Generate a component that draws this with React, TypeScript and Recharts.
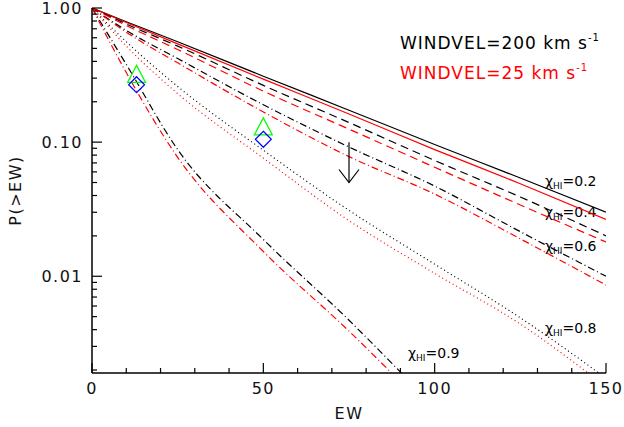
import React from "react";
import { ComposedChart, Customized, Line, ReferenceLine, Scatter, XAxis, YAxis } from "recharts";

// EW grid shared by every curve
const ewGrid = [0, 10, 25, 50, 75, 100, 125, 150];

// P(>EW), WINDVEL = 200 km/s (black) and 25 km/s (red)
const black02 = [1, 0.79, 0.56, 0.31, 0.173, 0.096, 0.054, 0.03];
const red02 = [1, 0.78, 0.54, 0.295, 0.162, 0.088, 0.049, 0.0265];
const black04 = [1, 0.76, 0.52, 0.265, 0.14, 0.073, 0.039, 0.02];
const red04 = [1, 0.74, 0.49, 0.24, 0.125, 0.065, 0.034, 0.018];
const black06 = [1, 0.68, 0.42, 0.19, 0.092, 0.047, 0.0215, 0.01];
const red06 = [1, 0.66, 0.39, 0.168, 0.078, 0.041, 0.019, 0.0086];
const black08 = [1, 0.56, 0.26, 0.087, 0.031, 0.0123, 0.0049, 0.00174];
const red08 = [1, 0.52, 0.23, 0.076, 0.026, 0.0105, 0.0044, 0.0015];
const black09 = [1, 0.38, 0.088, 0.0188, 0.0047, 0.00105, null, null];
const red09 = [1, 0.33, 0.077, 0.0153, 0.0039, 0.0009, null, null];

// observed points
const triangleEW = [13, 50];
const triangleP = [0.32, 0.13];
const diamondEW = [13, 50];
const diamondP = [0.268, 0.105];

// upper limit arrow
const limitEW = [75];
const limitTop = [0.1];
const limitTip = [0.05];

// ticks
const xTicks = [0, 10, 20, 30, 40, 50, 60, 70, 80, 90, 100, 110, 120, 130, 140, 150];
const xLabelled = [0, 50, 100, 150];
const yTicks = [
  0.002, 0.003, 0.004, 0.005, 0.006, 0.007, 0.008, 0.009,
  0.01, 0.02, 0.03, 0.04, 0.05, 0.06, 0.07, 0.08, 0.09,
  0.1, 0.2, 0.3, 0.4, 0.5, 0.6, 0.7, 0.8, 0.9, 1,
];
const yMajor = [0.01, 0.1, 1];
const yMajorLabels = ["0.01", "0.10", "1.00"];

const FONT = "'DejaVu Sans', sans-serif";

const chartData = ewGrid.map((ew, i) => ({
  ew,
  b02: black02[i],
  r02: red02[i],
  b04: black04[i],
  r04: red04[i],
  b06: black06[i],
  r06: red06[i],
  b08: black08[i],
  r08: red08[i],
  b09: black09[i],
  r09: red09[i],
}));

const DASHED = "8 5";
const DASHDOT = "7 3 1 3";
const DOTTED = "1 3";

const series = [
  { key: "b02", color: "#000000", dash: undefined },
  { key: "r02", color: "#ff0000", dash: undefined },
  { key: "b04", color: "#000000", dash: DASHED },
  { key: "r04", color: "#ff0000", dash: DASHED },
  { key: "b06", color: "#000000", dash: DASHDOT },
  { key: "r06", color: "#ff0000", dash: DASHDOT },
  { key: "b08", color: "#000000", dash: DOTTED },
  { key: "r08", color: "#ff0000", dash: DOTTED },
  { key: "b09", color: "#000000", dash: DASHDOT },
  { key: "r09", color: "#ff0000", dash: DASHDOT },
];

const triangles = triangleEW.map((ew, i) => ({ ew, p: triangleP[i] }));
const diamonds = diamondEW.map((ew, i) => ({ ew, p: diamondP[i] }));
const arrowTips = limitEW.map((ew, i) => ({ ew, p: limitTip[i] }));

function BottomTick(props: any) {
  const { x, y, payload } = props;
  const labelled = xLabelled.includes(payload.value);
  return (
    <g>
      <line x1={x} x2={x} y1={y} y2={y - (labelled ? 10 : 5)} stroke="#000" strokeWidth={1.2} />
      {labelled && (
        <text x={x} y={y + 21} textAnchor="middle" fontSize={16} letterSpacing={1.5} fontFamily={FONT} fill="#111">
          {payload.value}
        </text>
      )}
    </g>
  );
}

function TopTick(props: any) {
  const { x, y, payload } = props;
  const labelled = xLabelled.includes(payload.value);
  return <line x1={x} x2={x} y1={y} y2={y + (labelled ? 10 : 5)} stroke="#000" strokeWidth={1.2} />;
}

function LeftTick(props: any) {
  const { x, y, payload } = props;
  const idx = yMajor.findIndex((v) => Math.abs(v - payload.value) < 1e-9);
  const major = idx >= 0;
  return (
    <g>
      <line x1={x} x2={x + (major ? 10 : 5)} y1={y} y2={y} stroke="#000" strokeWidth={1.2} />
      {major && (
        <text x={x - 9} y={y + 6} textAnchor="end" fontSize={16} letterSpacing={1.5} fontFamily={FONT} fill="#111">
          {yMajorLabels[idx]}
        </text>
      )}
    </g>
  );
}

function RightTick(props: any) {
  const { x, y, payload } = props;
  const major = yMajor.some((v) => Math.abs(v - payload.value) < 1e-9);
  return <line x1={x} x2={x - (major ? 10 : 5)} y1={y} y2={y} stroke="#000" strokeWidth={1.2} />;
}

function TriangleMark(props: any) {
  const { cx, cy } = props;
  return <path d={`M${cx},${cy - 9}L${cx + 9},${cy + 8}L${cx - 9},${cy + 8}Z`} fill="none" stroke="#00ff00" strokeWidth={1.2} />;
}

function DiamondMark(props: any) {
  const { cx, cy } = props;
  return <path d={`M${cx},${cy - 8}L${cx + 8},${cy}L${cx},${cy + 8}L${cx - 8},${cy}Z`} fill="none" stroke="#0000ff" strokeWidth={1.2} />;
}

function ArrowHead(props: any) {
  const { cx, cy } = props;
  return <path d={`M${cx - 10},${cy - 13}L${cx},${cy}L${cx + 10},${cy - 13}`} fill="none" stroke="#000" strokeWidth={1.2} />;
}

function ChiLabel({ x, y, value }: { x: number; y: number; value: string }) {
  return (
    <text x={x} y={y} fontFamily={FONT} fontSize={14} fill="#000">
      χ
      <tspan fontSize={9} dy={3}>HI</tspan>
      <tspan dy={-3}>={value}</tspan>
    </text>
  );
}

function Annotations() {
  return (
    <g>
      <text x={400} y={49} fontFamily={FONT} fontSize={17} letterSpacing={1} fill="#000">
        WINDVEL=200 km s<tspan fontSize={10} dy={-8}>-1</tspan>
      </text>
      <text x={400} y={79} fontFamily={FONT} fontSize={17} letterSpacing={1} fill="#ff0000">
        WINDVEL=25 km s<tspan fontSize={10} dy={-8}>-1</tspan>
      </text>
      <ChiLabel x={545} y={186} value="0.2" />
      <ChiLabel x={545} y={217} value="0.4" />
      <ChiLabel x={545} y={251} value="0.6" />
      <ChiLabel x={545} y={333} value="0.8" />
      <ChiLabel x={408} y={358} value="0.9" />
    </g>
  );
}

export default function App() {
  return (
    <div style={{ position: "absolute", left: 0, top: 0, width: 624, height: 427, background: "#fff" }}>
      <ComposedChart width={624} height={427} data={chartData} margin={{ top: 8, right: 18, bottom: 0, left: 0 }}>
        <XAxis
          xAxisId="x"
          dataKey="ew"
          type="number"
          domain={[0, 150]}
          ticks={xTicks}
          interval={0}
          allowDataOverflow
          height={54}
          tickSize={0}
          tickMargin={0}
          tickLine={false}
          tick={<BottomTick />}
          axisLine={{ stroke: "#000", strokeWidth: 1.5 }}
          label={{
            content: (p: any) => {
              const vb = p.viewBox;
              return (
                <text x={vb.x + vb.width / 2} y={vb.y + 46} textAnchor="middle" fontSize={16} letterSpacing={1.5} fontFamily={FONT} fill="#111">
                  EW
                </text>
              );
            },
          }}
        />
        <XAxis
          xAxisId="top"
          orientation="top"
          dataKey="ew"
          type="number"
          domain={[0, 150]}
          ticks={xTicks}
          interval={0}
          allowDataOverflow
          height={0}
          tickSize={0}
          tickMargin={0}
          tickLine={false}
          tick={<TopTick />}
          axisLine={{ stroke: "#000", strokeWidth: 1.5 }}
        />
        <YAxis
          yAxisId="y"
          dataKey="p"
          type="number"
          scale="log"
          domain={[0.0019, 1]}
          ticks={yTicks}
          interval={0}
          allowDataOverflow
          width={92}
          tickSize={0}
          tickMargin={0}
          tickLine={false}
          tick={<LeftTick />}
          axisLine={{ stroke: "#000", strokeWidth: 1.5 }}
          label={{
            content: (p: any) => {
              const vb = p.viewBox;
              const cx = vb.x + 21;
              const cy = vb.y + vb.height / 2;
              return (
                <text x={cx} y={cy} transform={`rotate(-90 ${cx} ${cy})`} textAnchor="middle" fontSize={16} letterSpacing={1.5} fontFamily={FONT} fill="#111">
                  P(&gt;EW)
                </text>
              );
            },
          }}
        />
        <YAxis
          yAxisId="r"
          orientation="right"
          type="number"
          scale="log"
          domain={[0.0019, 1]}
          ticks={yTicks}
          interval={0}
          allowDataOverflow
          width={0}
          tickSize={0}
          tickMargin={0}
          tickLine={false}
          tick={<RightTick />}
          axisLine={{ stroke: "#000", strokeWidth: 1.5 }}
        />
        {series.map((s) => (
          <Line
            key={s.key}
            xAxisId="x"
            yAxisId="y"
            dataKey={s.key}
            type="monotone"
            stroke={s.color}
            strokeWidth={1.2}
            strokeDasharray={s.dash}
            dot={false}
            activeDot={false}
            isAnimationActive={false}
          />
        ))}
        <ReferenceLine
          xAxisId="x"
          yAxisId="y"
          segment={[
            { x: limitEW[0], y: limitTop[0] },
            { x: limitEW[0], y: limitTip[0] },
          ]}
          stroke="#000"
          strokeWidth={1.2}
        />
        <Scatter xAxisId="x" yAxisId="y" data={arrowTips} dataKey="p" shape={<ArrowHead />} isAnimationActive={false} />
        <Scatter xAxisId="x" yAxisId="y" data={triangles} dataKey="p" shape={<TriangleMark />} isAnimationActive={false} />
        <Scatter xAxisId="x" yAxisId="y" data={diamonds} dataKey="p" shape={<DiamondMark />} isAnimationActive={false} />
        <Customized component={<Annotations />} />
      </ComposedChart>
    </div>
  );
}
